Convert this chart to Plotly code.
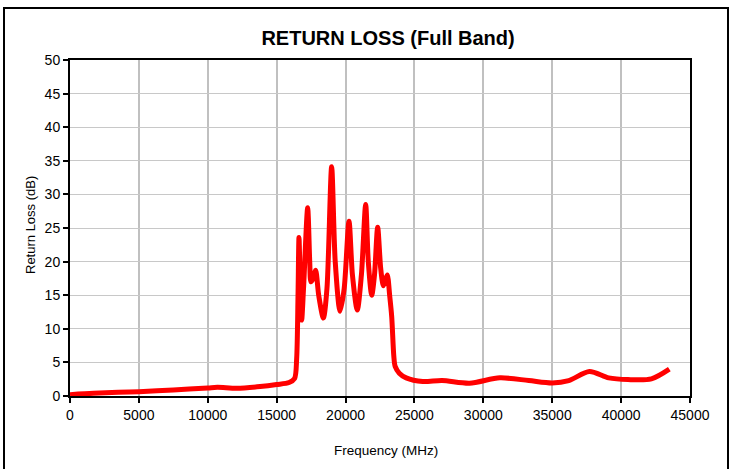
import plotly.graph_objects as go

freq_mhz = [0, 1700, 3500, 5000, 7500, 10000, 10700, 12100, 13800, 15000, 15900, 16300,
            16450, 16550, 16620, 16720, 16815, 16950, 17250, 17400, 17490, 17650, 17830,
            18050, 18390, 18650, 18990, 19250, 19600, 19900, 20250, 20500, 20850, 21150,
            21460, 21650, 21900, 22100, 22330, 22550, 22740, 22870, 23030, 23200, 23350,
            23500, 23600, 23900, 24400, 25600, 27000, 29000, 31200, 33300, 35000, 36200,
            37700, 39100, 40500, 42200, 43500]
return_loss_db = [0.2, 0.4, 0.55, 0.65, 0.9, 1.2, 1.3, 1.15, 1.4, 1.7, 2.0, 2.6,
                  5.5, 15, 23.6, 16, 11.3, 16, 28, 20, 17, 17.5, 18.7,
                  15, 11.6, 16, 34.1, 20, 12.6, 16, 26, 18, 12.8, 18,
                  28.5, 20, 15, 18, 25.1, 19, 16.4, 17.2, 18, 15, 11.8,
                  6, 4.4, 3.4, 2.7, 2.15, 2.3, 1.9, 2.7, 2.3, 1.95, 2.3,
                  3.65, 2.7, 2.45, 2.55, 4.0]

x_ticks = list(range(0, 45001, 5000))
y_ticks = list(range(0, 51, 5))

FONT = "Liberation Sans, Arial, sans-serif"

fig = go.Figure()
fig.add_trace(go.Scatter(
    x=freq_mhz, y=return_loss_db, mode="lines",
    line=dict(color="#ff0000", width=5, shape="spline", smoothing=0.8),
    showlegend=False, hoverinfo="x+y",
))

fig.update_layout(
    width=730, height=469,
    margin=dict(l=70, r=40, t=60, b=73),
    paper_bgcolor="white", plot_bgcolor="white",
    font=dict(family=FONT, size=13.5, color="black"),
    title=dict(text="<b>RETURN LOSS (Full Band)</b>", x=0.513, xref="paper",
               y=1 - 38 / 469, yref="container", xanchor="center", yanchor="middle",
               font=dict(family=FONT, size=20, color="black")),
    xaxis=dict(range=[0, 45000], tickvals=x_ticks, ticktext=[str(v) for v in x_ticks],
               showgrid=True, gridcolor="#c0c0c0", gridwidth=2,
               showline=True, linecolor="black", linewidth=2, mirror=True,
               ticks="outside", ticklen=5, tickcolor="black", tickwidth=2,
               zeroline=False, tickfont=dict(size=14)),
    yaxis=dict(range=[0, 50], tickvals=y_ticks, ticktext=[str(v) for v in y_ticks],
               showgrid=True, gridcolor="#c8c8c8", gridwidth=1,
               showline=True, linecolor="black", linewidth=2, mirror=True,
               ticks="outside", ticklen=5, tickcolor="black", tickwidth=2,
               zeroline=False, tickfont=dict(size=14)),
    annotations=[
        dict(text="Frequency (MHz)", xref="paper", yref="paper",
             x=(386 - 70) / 620, y=(396 - 450) / 336, showarrow=False,
             xanchor="center", yanchor="middle", font=dict(size=13.5)),
        dict(text="Return Loss (dB)", xref="paper", yref="paper",
             x=(30 - 70) / 620, y=(396 - 225) / 336, showarrow=False, textangle=-90,
             xanchor="center", yanchor="middle", font=dict(size=13)),
    ],
    shapes=[
        dict(type="rect", xref="paper", yref="paper",
             x0=(4 - 70) / 620, x1=(728 - 70) / 620,
             y0=(396 - 480) / 336, y1=(396 - 8) / 336,
             line=dict(color="black", width=2), fillcolor="rgba(0,0,0,0)", layer="below"),
    ],
)

fig.write_html("out.html", config={"displayModeBar": False},
               post_script="document.body.style.margin='0';document.body.style.overflow='hidden';")
